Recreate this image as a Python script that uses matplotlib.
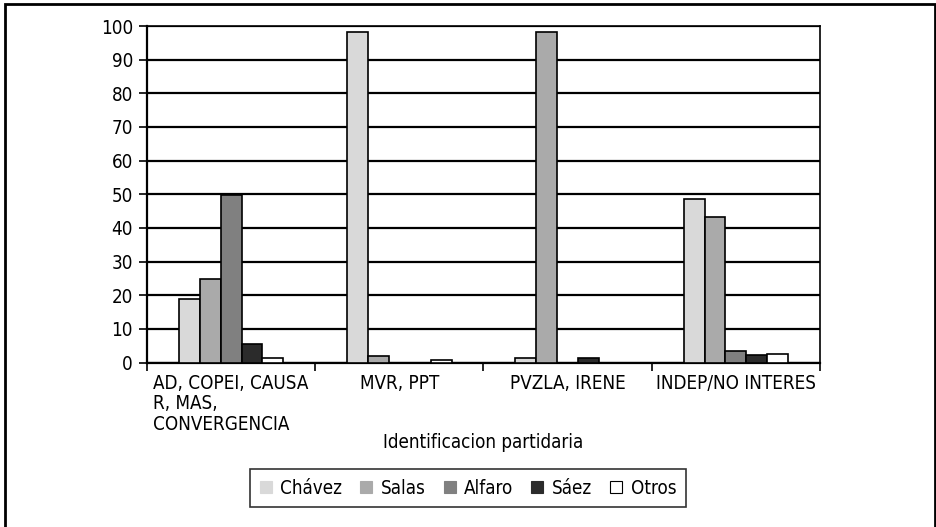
import matplotlib
matplotlib.use("Agg")
import matplotlib.pyplot as plt
from matplotlib import font_manager as fm
from matplotlib.patches import Patch, Rectangle
import numpy as np

# a condensed sans is closest to the original; use one if the system has it
cond = [f for f in fm.fontManager.ttflist if "Condensed" in f.fname or "Narrow" in f.fname]
if cond:
    plt.rcParams['font.family'] = [cond[0].name, 'DejaVu Sans']
    plt.rcParams['font.stretch'] = cond[0].stretch
    fsize = 13.5
else:
    plt.rcParams['font.family'] = ['Liberation Sans', 'DejaVu Sans']
    fsize = 13

# Data
categories = ["AD, COPEI, CAUSA\nR, MAS,\nCONVERGENCIA", "MVR, PPT", "PVZLA, IRENE", "INDEP/NO INTERES"]
series_names = ["Chávez", "Salas", "Alfaro", "Sáez", "Otros"]
chavez = [19.0, 98.3, 1.2, 48.6]
salas = [24.7, 1.8, 98.3, 43.2]
alfaro = [49.7, 0.0, 0.0, 3.5]
saez = [5.5, 0.0, 1.3, 2.3]
otros = [1.2, 0.8, 0.0, 2.5]
colors = ["#d9d9d9", "#aaaaaa", "#808080", "#2b2b2b", "#ffffff"]

values = [chavez, salas, alfaro, saez, otros]

fig = plt.figure(figsize=(9.37, 5.27), dpi=100)
ax = fig.add_axes([147 / 937, 1 - 362.5 / 527, (820 - 147) / 937, (362.5 - 26) / 527])

x = np.arange(len(categories))
width = 0.124
for i, (vals, col) in enumerate(zip(values, colors)):
    offset = (i - 2) * width
    ax.bar(x + offset, vals, width, color=col, edgecolor="black", linewidth=1.2, zorder=3)

ax.set_ylim(0, 100)
ax.set_xlim(-0.5, len(categories) - 0.5)
ax.set_yticks(range(0, 101, 10))
ax.yaxis.grid(True, color="black", linewidth=1.6, zorder=0)
ax.set_axisbelow(True)

# category labels centred, ticks between categories
ax.set_xticks(x)
ax.set_xticklabels(categories, fontsize=fsize, multialignment="left", linespacing=1.1)
ax.tick_params(axis="x", length=0, pad=8)
ax.set_xticks(np.arange(-0.5, len(categories), 1), minor=True)
ax.tick_params(axis="x", which="minor", length=6, width=1.2, direction="out")
ax.tick_params(axis="y", length=6, width=1.2, pad=4, labelsize=fsize)

for s in ax.spines.values():
    s.set_color("black")
    s.set_linewidth(1.2)
ax.spines["left"].set_linewidth(1.6)
ax.spines["bottom"].set_linewidth(1.6)

fig.text(483 / 937, 1 - 442 / 527, "Identificacion partidaria", ha="center", va="center", fontsize=fsize)

handles = []
for name, col in zip(series_names, colors):
    ec = "black" if col == "#ffffff" else col
    handles.append(Patch(facecolor=col, edgecolor=ec, linewidth=0.8, label=name))
leg = fig.legend(handles=handles, loc="center", bbox_to_anchor=(468 / 937, 1 - 488 / 527),
                 ncol=5, fontsize=fsize, frameon=True, fancybox=False,
                 handlelength=0.65, handleheight=0.65, handletextpad=0.45,
                 columnspacing=0.95, borderpad=0.5)
leg.get_frame().set_edgecolor("black")
leg.get_frame().set_linewidth(1.2)

# outer frame around the whole chart
fig.patches.append(Rectangle((5 / 937, -0.02), (935 - 5) / 937, 1 - 4 / 527 + 0.02,
                             transform=fig.transFigure, fill=False, edgecolor="black",
                             linewidth=2, clip_on=False))

fig.savefig("out.png", dpi=100)
